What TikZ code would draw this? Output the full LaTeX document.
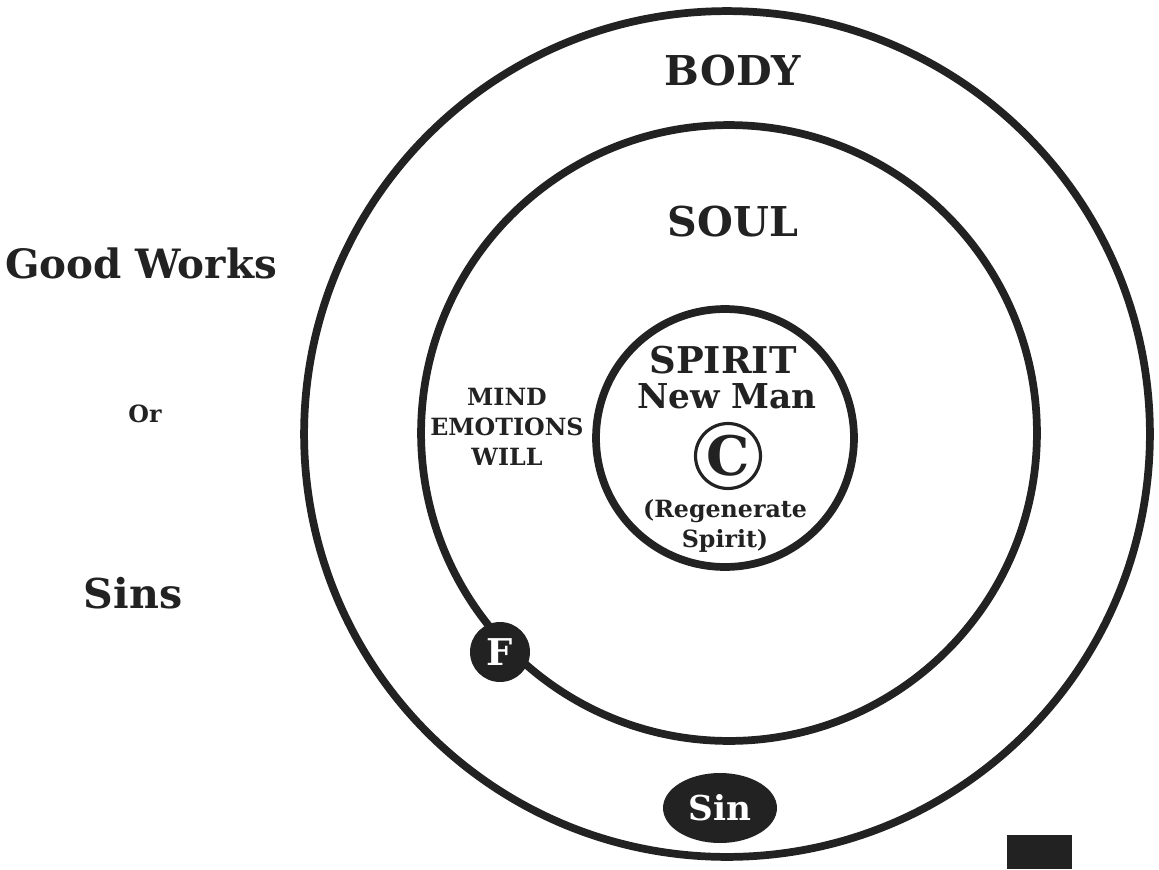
\documentclass[tikz,border=0pt]{standalone}
\usepackage{fontspec}
\setmainfont{DejaVu Serif}
\usetikzlibrary{shapes.geometric}
\definecolor{ink}{HTML}{222222}
\tikzset{
  ring/.style={circle, draw=ink, line width=4.4pt, inner sep=0pt, outer sep=0pt},
  lbl/.style={text=ink, font=\bfseries, inner sep=0pt, align=center},
  blob/.style={fill=ink, text=white, font=\bfseries, inner sep=0pt},
}
\begin{document}
\begin{tikzpicture}[x=0.02cm,y=-0.02cm]
\useasboundingbox (0,0) rectangle (1159,869);
% rings
\node[ring, minimum size=16.92cm] (body) at (727,434) {};
\node[ring, minimum size=12.32cm] (soul) at (729,433) {};
\node[ring, minimum size=5.16cm] (spirit) at (725,438) {};
% ring labels
\node[lbl, font=\fontsize{23.4}{28}\bfseries\selectfont] (tbody) at (733,71) {BODY};
\node[lbl, font=\fontsize{23.4}{28}\bfseries\selectfont] (tsoul) at (733,222) {SOUL};
% left texts
\node[lbl, font=\fontsize{23}{28}\bfseries\selectfont] (good) at (141,263) {Good Works};
\node[lbl, font=\fontsize{13.5}{16}\bfseries\selectfont] (or) at (145,414) {Or};
\node[lbl, font=\fontsize{23.4}{28}\bfseries\selectfont] (sins) at (133,593) {Sins};
% soul contents
\node[lbl, font=\fontsize{13.5}{17}\bfseries\selectfont] (mew) at (507,427) {MIND\\EMOTIONS\\WILL};
% spirit contents
\node[lbl, font=\fontsize{21}{26}\bfseries\selectfont] (tspirit) at (723,360) {SPIRIT};
\node[lbl, font=\fontsize{19.5}{24}\bfseries\selectfont] (newman) at (727,396) {New Man};
\node[circle, draw=ink, line width=1.8pt, minimum size=1.3cm, inner sep=0pt] (cc) at (728,456) {};
\node[lbl, font=\fontsize{31}{36}\bfseries\selectfont] (cletter) at (cc) {C};
\node[lbl, font=\fontsize{13.5}{17}\bfseries\selectfont] (regen) at (725,526) {(Regenerate\\Spirit)};
% F on the soul ring
\node[blob, circle, minimum size=1.2cm, font=\fontsize{21}{24}\bfseries\selectfont] (f) at (500,652) {F};
% Sin ellipse
\node[blob, ellipse, minimum width=2.28cm, minimum height=1.4cm, font=\fontsize{19.5}{22}\bfseries\selectfont] (sin) at (720,808) {Sin};
% black square
\fill[ink] (1007,835) rectangle (1072,869);
\end{tikzpicture}
\end{document}
